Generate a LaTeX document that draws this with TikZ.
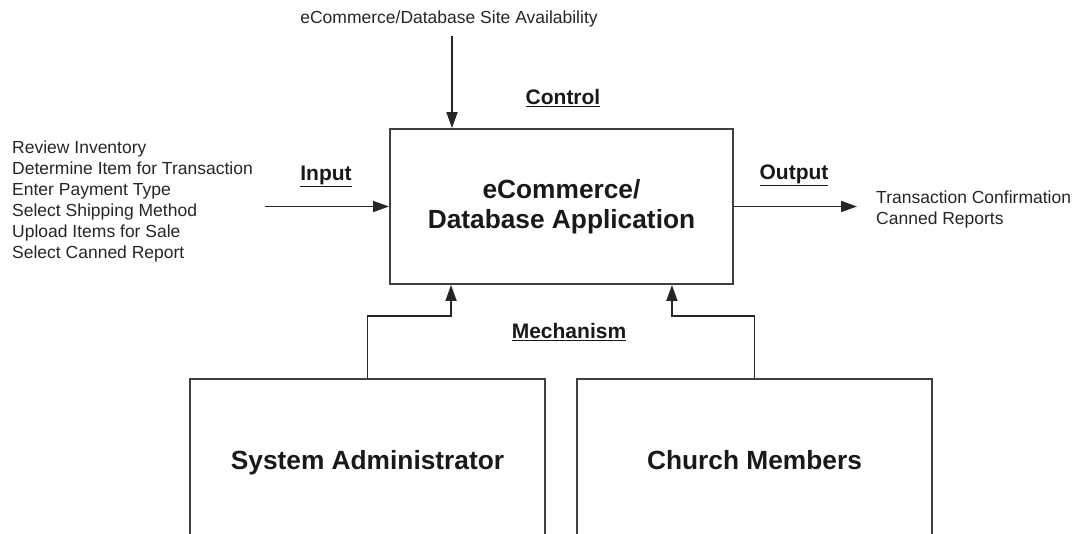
\documentclass[tikz,border=0pt]{standalone}
\usepackage{fontspec}
\setmainfont{Liberation Sans}
\usetikzlibrary{positioning,arrows.meta}
\tikzset{
	box/.style={draw=black!75, line width=1.9pt, align=center, text=black!90, font=\fontsize{26.3}{30}\selectfont\bfseries},
	actor/.style={box, minimum width=355pt, minimum height=168pt, text height=19pt, text depth=6pt},
	flow/.style={draw=black!85, line width=1.8pt, -{Triangle[length=16pt,width=11pt]}},
	plain/.style={align=left, inner sep=0pt, text=black!85, font=\fontsize{17.5}{21}\selectfont},
	flowlabel/.style={inner sep=0pt, text=black!90, font=\fontsize{21}{25}\selectfont\bfseries}
}
\newcommand{\FlowLabel}[3]{\node[flowlabel] (#1) at (#2) {\underline{#3}};}

\begin{document}
\begin{tikzpicture}[x=1pt,y=-1pt]
\useasboundingbox (0,0) rectangle (1084,533);
\clip (0,0) rectangle (1084,533);

	\node[box, minimum width=343pt, minimum height=155pt] (App) at (561.5,206.5) {eCommerce/\\Database Application};
	\node[actor] (Admin) at (367.5,463) {System Administrator};
	\node[actor] (Members) at (754.5,463) {Church Members};
	
	\node[plain] (CtrlSrc) at (449,19) {eCommerce/Database Site Availability};
	\node[plain, anchor=west] (InList) at (12,201.5) {Review Inventory\\Determine Item for Transaction\\Enter Payment Type\\Select Shipping Method\\Upload Items for Sale\\Select Canned Report};
	\node[plain, anchor=west] (OutList) at (876,209) {Transaction Confirmation\\Canned Reports};
	
	\FlowLabel{Control}{563,98}{Control}
	\FlowLabel{Input}{326,176}{Input}
	\FlowLabel{Output}{794,175}{Output}
	\FlowLabel{Mechanism}{569,332}{Mechanism}
	
	\coordinate (CtrlIn) at (452,36);
	\coordinate (InStart) at (265,206.5);
	\coordinate (OutEnd) at (857,206.5);
	\coordinate (MechL) at ([xshift=62pt]App.south west);
	\coordinate (MechR) at ([xshift=-62pt]App.south east);
	
	\draw[flow] (CtrlIn) -- (CtrlIn |- App.north);
	\draw[flow] (InStart) -- (App.west);
	\draw[flow] (App.east) -- (OutEnd);
	\draw[flow] (Admin.north) -- ++(0,-62) -| (MechL);
	\draw[flow] (Members.north) -- ++(0,-62) -| (MechR);

\end{tikzpicture}
\end{document}
